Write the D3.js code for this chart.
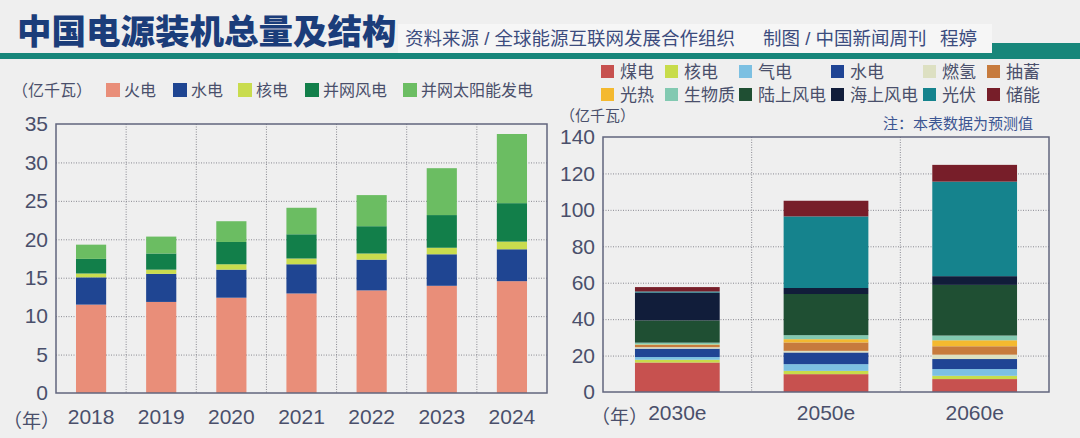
<!DOCTYPE html>
<html>
<head>
<meta charset="utf-8">
<script src="https://cdn.jsdelivr.net/npm/d3@7"></script>
<style>
  html, body { margin: 0; padding: 0; background: #efefef; }
  svg { display: block; font-family: "Liberation Sans", "Noto Sans CJK SC", sans-serif; }
</style>
</head>
<body>
<div id="chart"></div>
<script>
// left chart: installed capacity 2018-2024 (亿千瓦)
var years = ["2018", "2019", "2020", "2021", "2022", "2023", "2024"];
var leftKeys = ["火电", "水电", "核电", "并网风电", "并网太阳能发电"];
var thermal = [11.5, 11.85, 12.4, 12.95, 13.35, 13.95, 14.55];
var hydro = [3.55, 3.65, 3.65, 3.8, 4.0, 4.1, 4.15];
var nuclear = [0.5, 0.55, 0.7, 0.75, 0.8, 0.85, 1.0];
var wind = [1.9, 2.1, 2.9, 3.15, 3.55, 4.25, 5.0];
var solar = [1.85, 2.2, 2.7, 3.45, 4.05, 6.1, 9.0];
var leftColors = ["#e98e79", "#1f4592", "#c9dc4e", "#127f4a", "#6bbd62"];

// right chart: forecast (亿千瓦)
var futureYears = ["2030e", "2050e", "2060e"];
var rightKeys = ["煤电", "核电", "气电", "水电", "燃氢", "抽蓄", "光热", "生物质", "陆上风电", "海上风电", "光伏", "储能"];
var coal = [16.2, 9.8, 7.1];
var nuclearF = [1.5, 1.8, 1.8];
var gas = [1.5, 3.7, 3.7];
var hydroF = [4.6, 6.4, 5.5];
var hydrogen = [0.8, 0.9, 2.4];
var pumped = [1.2, 4.6, 4.6];
var csp = [0.3, 1.8, 3.3];
var biomass = [1.0, 2.2, 2.6];
var onshore = [12.2, 22.6, 27.8];
var offshore = [15.3, 3.3, 4.8];
var pv = [0.6, 39.3, 51.9];
var storage = [2.4, 8.6, 9.2];
var rightColors = ["#c7514f", "#c8dc4a", "#7cc0e2", "#1f4494", "#dde0c2", "#c77b3d",
                   "#f4b92f", "#82c9b1", "#1f4f33", "#111d3a", "#15838d", "#771e29"];

var width = 1080, height = 438;
var textColor = "#4a4f6b";

var svg = d3.select("#chart").append("svg")
    .attr("width", width)
    .attr("height", height);

svg.append("rect")
    .attr("width", width)
    .attr("height", height)
    .attr("fill", "#efefef");

// header
svg.append("rect")
    .attr("x", 398).attr("y", 24)
    .attr("width", 594).attr("height", 29)
    .attr("fill", "#f6f6f6");
svg.append("rect")
    .attr("x", 0).attr("y", 53)
    .attr("width", width).attr("height", 6)
    .attr("fill", "#17867a");
svg.append("rect")
    .attr("x", 992).attr("y", 43)
    .attr("width", 88).attr("height", 16)
    .attr("fill", "#17867a");

svg.append("text")
    .attr("x", 17).attr("y", 44)
    .attr("font-size", 34.5)
    .attr("font-weight", 900)
    .attr("font-family", "Noto Sans CJK SC")
    .attr("fill", "#1b3d7a")
    .text("中国电源装机总量及结构");

var credits = [
    {x: 405, t: "资料来源 / 全球能源互联网发展合作组织"},
    {x: 763, t: "制图 / 中国新闻周刊"},
    {x: 940, t: "程婷"}
];
svg.selectAll(".credit")
    .data(credits)
    .join("text")
    .attr("class", "credit")
    .attr("x", d => d.x).attr("y", 45)
    .attr("font-size", 18.5)
    .attr("fill", "#3c4c7e")
    .text(d => d.t);

function stackRows(cats, keys, arrays) {
    return cats.map(function(c, i) {
        var row = {cat: c};
        keys.forEach(function(k, j) { row[k] = arrays[j][i]; });
        return row;
    });
}

function drawPanel(opt) {
    var x = d3.scaleBand()
        .domain(opt.cats)
        .range([opt.left, opt.right])
        .paddingInner(0)
        .paddingOuter(0);
    var y = d3.scaleLinear()
        .domain([0, opt.max])
        .range([opt.bottom, opt.top]);

    var g = svg.append("g");

    // horizontal grid
    g.append("g")
        .attr("transform", "translate(" + opt.left + ",0)")
        .call(d3.axisLeft(y).tickValues(opt.grid).tickSize(-(opt.right - opt.left)).tickFormat(""))
        .call(s => s.select(".domain").remove())
        .selectAll("line")
        .attr("stroke", "#8a8a92")
        .attr("stroke-dasharray", "1,1.5");

    // vertical grid at band edges
    g.selectAll(".vgrid")
        .data(opt.cats.slice(1))
        .join("line")
        .attr("class", "vgrid")
        .attr("x1", d => x(d)).attr("x2", d => x(d))
        .attr("y1", opt.top).attr("y2", opt.bottom)
        .attr("stroke", "#8a8a92")
        .attr("stroke-dasharray", "1,1.5");

    var series = d3.stack().keys(opt.keys)(opt.rows);
    var bw = x.bandwidth() * opt.barFrac;

    g.selectAll(".layer")
        .data(series)
        .join("g")
        .attr("class", "layer")
        .attr("fill", (d, i) => opt.colors[i])
        .selectAll("rect")
        .data(d => d)
        .join("rect")
        .attr("x", d => x(d.data.cat) + (x.bandwidth() - bw) / 2)
        .attr("width", bw)
        .attr("y", d => y(d[1]))
        .attr("height", d => y(d[0]) - y(d[1]));

    // frame
    g.append("rect")
        .attr("x", opt.left).attr("y", opt.top)
        .attr("width", opt.right - opt.left)
        .attr("height", opt.bottom - opt.top)
        .attr("fill", "none")
        .attr("stroke", "#62667e")
        .attr("stroke-width", 1.5);

    // y tick labels
    var ya = g.append("g")
        .attr("transform", "translate(" + opt.left + ",0)")
        .call(d3.axisLeft(y).tickValues(opt.ticks).tickSize(0).tickPadding(opt.pad));
    ya.select(".domain").remove();
    ya.selectAll("text")
        .attr("font-size", 21)
        .attr("font-family", "Liberation Sans")
        .attr("fill", textColor);

    // x tick labels
    var xa = g.append("g")
        .attr("transform", "translate(0," + opt.bottom + ")")
        .call(d3.axisBottom(x).tickSize(0).tickPadding(opt.xpad));
    xa.select(".domain").remove();
    xa.selectAll("text")
        .attr("font-size", 21)
        .attr("font-family", "Liberation Sans")
        .attr("fill", textColor);

    g.append("text")
        .attr("x", opt.yearX).attr("y", opt.yearY)
        .attr("font-size", 19)
        .attr("font-family", "Noto Sans CJK SC")
        .attr("fill", textColor)
        .text("（年）");
}

drawPanel({
    cats: years,
    keys: leftKeys,
    rows: stackRows(years, leftKeys, [thermal, hydro, nuclear, wind, solar]),
    colors: leftColors,
    left: 56, right: 547, top: 124, bottom: 393,
    max: 35,
    ticks: d3.range(0, 36, 5),
    grid: d3.range(5, 31, 5),
    barFrac: 0.43,
    pad: 8, xpad: 16,
    yearX: 3, yearY: 428
});

drawPanel({
    cats: futureYears,
    keys: rightKeys,
    rows: stackRows(futureYears, rightKeys,
        [coal, nuclearF, gas, hydroF, hydrogen, pumped, csp, biomass, onshore, offshore, pv, storage]),
    colors: rightColors,
    left: 603, right: 1049, top: 137, bottom: 392,
    max: 140,
    ticks: d3.range(0, 141, 20),
    grid: d3.range(20, 121, 20),
    barFrac: 0.57,
    pad: 8, xpad: 13,
    yearX: 591, yearY: 424
});

// left legend
svg.append("text")
    .attr("x", 12).attr("y", 96)
    .attr("font-size", 16)
    .attr("font-family", "Noto Sans CJK SC")
    .attr("fill", textColor)
    .text("（亿千瓦）");

var leftLegendX = [106, 173, 238, 305, 403];
var ll = svg.selectAll(".lleg")
    .data(leftKeys)
    .join("g")
    .attr("class", "lleg")
    .attr("transform", (d, i) => "translate(" + leftLegendX[i] + ",83)");
ll.append("rect")
    .attr("width", 14).attr("height", 14)
    .attr("fill", (d, i) => leftColors[i]);
ll.append("text")
    .attr("x", 18).attr("y", 13)
    .attr("font-size", 16)
    .attr("font-family", "Noto Sans CJK SC")
    .attr("fill", textColor)
    .text(d => d);

// right legend
var rightLegendX = [601, 665, 739, 831, 923, 987];
var rl = svg.selectAll(".rleg")
    .data(rightKeys)
    .join("g")
    .attr("class", "rleg")
    .attr("transform", (d, i) => "translate(" + rightLegendX[i % 6] + "," + (i < 6 ? 65 : 88) + ")");
rl.append("rect")
    .attr("width", 13).attr("height", 13)
    .attr("fill", (d, i) => rightColors[i]);
rl.append("text")
    .attr("x", 19).attr("y", 13)
    .attr("font-size", 17)
    .attr("font-family", "Noto Sans CJK SC")
    .attr("fill", textColor)
    .text(d => d);

svg.append("text")
    .attr("x", 560).attr("y", 121)
    .attr("font-size", 15)
    .attr("font-family", "Noto Sans CJK SC")
    .attr("fill", textColor)
    .text("（亿千瓦）");

svg.append("text")
    .attr("x", 1033).attr("y", 129)
    .attr("text-anchor", "end")
    .attr("font-size", 15)
    .attr("font-family", "Noto Sans CJK SC")
    .attr("fill", "#3b5592")
    .text("注：本表数据为预测值");
</script>
</body>
</html>
